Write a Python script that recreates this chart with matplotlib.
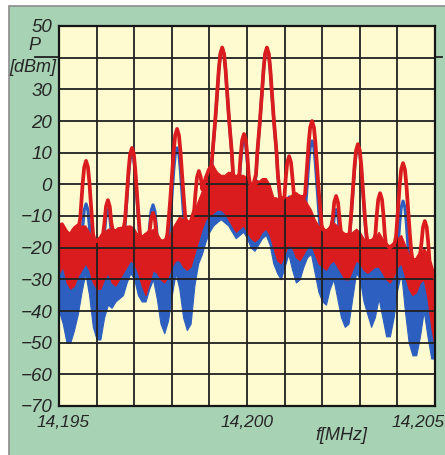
import matplotlib
matplotlib.use('Agg')
import matplotlib.pyplot as plt
import numpy as np
from matplotlib.patches import Rectangle
from matplotlib.lines import Line2D

# ---------------- data ----------------
f_start, f_stop = 14.195, 14.205
f_env = np.linspace(f_start, f_stop, 101)          # envelope sample frequencies (MHz)

# red trace: upper / lower edge of the dense noise band (dBm)
red_top = [-13, -13, -15, -16, -14, -13, -13, -13, -15, -17,
           -18, -17, -15, -14, -14, -15, -14, -14, -13, -13,
           -14, -16, -17, -16, -15, -14, -16, -18, -18, -17,
           -14, -12, -10, -11, -12, -12, -8, -5, -2, 2,
           5, 6, 4, 3, 3, 4, 3, 2, 3, 3,
           2, 0, 0, 1, 2, 2, 0, -4, -5, -5,
           -4, -4, -3, -3, -4, -4, -6, -8, -11, -13,
           -14, -15, -14, -12, -13, -15, -16, -16, -15, -14,
           -15, -17, -18, -18, -17, -15, -17, -19, -20, -19,
           -17, -16, -19, -22, -24, -24, -22, -20, -22, -26,
           -30]
red_bot = [-28, -26, -31, -33, -32, -29, -27, -25, -27, -31,
           -33, -33, -30, -28, -31, -32, -30, -28, -26, -24,
           -25, -28, -32, -35, -31, -27, -28, -30, -31, -29,
           -26, -24, -24, -26, -27, -26, -22, -18, -14, -11,
           -10, -9, -8, -8, -9, -11, -13, -15, -14, -13,
           -15, -17, -18, -17, -15, -14, -16, -20, -24, -25,
           -22, -19, -20, -23, -24, -22, -20, -19, -22, -25,
           -26, -27, -25, -24, -26, -28, -30, -30, -27, -24,
           -25, -27, -28, -27, -26, -26, -28, -30, -31, -29,
           -26, -25, -29, -33, -35, -34, -31, -30, -36, -45,
           -52]
# blue trace
blue_top = [-18, -18, -20, -21, -19, -18, -18, -18, -20, -22,
            -23, -22, -20, -19, -19, -20, -19, -19, -18, -18,
            -19, -21, -22, -21, -20, -19, -21, -23, -23, -22,
            -19, -17, -15, -16, -17, -17, -13, -10, -7, -3,
            0, 1, -1, -2, -2, -1, -2, -3, -2, -2,
            -3, -5, -5, -4, -3, -3, -5, -9, -10, -10,
            -9, -9, -8, -8, -9, -9, -11, -13, -16, -18,
            -19, -20, -19, -17, -18, -20, -21, -21, -20, -19,
            -20, -22, -23, -23, -22, -20, -22, -24, -25, -24,
            -22, -21, -24, -27, -29, -29, -27, -25, -27, -31,
            -35]
blue_bot = [-40, -44, -50, -50, -46, -41, -34, -28, -35, -45,
            -49, -49, -42, -38, -39, -37, -36, -35, -31, -28,
            -30, -35, -37, -37, -33, -30, -36, -44, -47, -43,
            -35, -28, -33, -42, -46, -44, -32, -25, -22, -18,
            -15, -13, -12, -11, -12, -13, -15, -17, -16, -15,
            -17, -20, -21, -19, -17, -16, -19, -25, -28, -30,
            -26, -22, -27, -31, -30, -26, -23, -22, -28, -34,
            -37, -38, -33, -30, -36, -42, -45, -44, -36, -28,
            -30, -37, -41, -45, -42, -36, -42, -48, -48, -42,
            -33, -28, -40, -50, -54, -54, -48, -40, -48, -55,
            -55]

# spectral lines (offset from 14.195 MHz in kHz) and their levels
peak_khz = [0.08, 0.72, 1.30, 1.94, 2.50, 3.14, 3.72, 4.34, 4.92,
            5.53, 6.12, 6.73, 7.37, 7.95, 8.54, 9.15, 9.73]
red_peak = [-12.6, 7.4, -5.0, 11.5, -9.0, 17.5, 4.2, 43.2, 15.9,
            43.2, 8.9, 20.0, -3.7, 12.7, -2.8, 6.7, -11.6]
blue_peak = [-27, -6.2, -8, 10.0, -6.5, 11.5, -8, 43.0, 14.0,
             43.0, -4.0, 13.7, -8, 12.0, -17, -5.3, -27]

# shape of one spectral line: offset (kHz) vs level below its top (dB)
profile_khz = [-0.36, -0.29, -0.255, -0.22, -0.185, -0.155, -0.125, -0.09, -0.05, 0.0,
               0.05, 0.09, 0.125, 0.155, 0.185, 0.22, 0.255, 0.29, 0.36]
profile_drop = [50, 40, 33, 28, 23, 18, 13, 7, 2, 0,
                2, 7, 13, 18, 23, 28, 33, 40, 50]

y_ticks = list(range(-70, 51, 10))
x_ticks = [14.195, 14.200, 14.205]
x_tick_labels = ['14,195', '14,200', '14,205']

# ---------------- style ----------------
RED = '#da1c1f'
BLUE = '#2c5fc0'
PLOT_BG = '#fffbd0'
PANEL = '#a8d2b4'
GRID = '#202020'
TXT = '#262626'
FONT = ['Liberation Sans', 'DejaVu Sans']

W, H = 445, 455
fig = plt.figure(figsize=(W / 100, H / 100), dpi=100)
fig.patch.set_facecolor('white')
fig.patches.append(Rectangle((9 / W, -0.01), 1.0, 1 - 6 / H + 0.01,
                             transform=fig.transFigure, facecolor=PANEL,
                             edgecolor='#8c8c8c', lw=1.2, zorder=-5))

ax = fig.add_axes([59 / W, 1 - 406 / H, 376 / W, 380 / H])
ax.set_zorder(3)
ax.set_facecolor(PLOT_BG)
ax.set_xlim(f_start, f_stop)
ax.set_ylim(-70, 50)

# blue band + lines
ax.fill_between(f_env, blue_bot, blue_top, color=BLUE, lw=0.8, zorder=1.0)
prof_f = np.array(profile_khz) / 1000.0
prof_d = np.array(profile_drop, dtype=float)
for pk, lv in zip(peak_khz, blue_peak):
    xs = f_start + pk / 1000.0 + prof_f
    ys = np.maximum(lv - prof_d, np.interp(xs, f_env, blue_top))
    ax.plot(xs, ys, color=BLUE, lw=2.3, solid_capstyle='round',
            solid_joinstyle='round', zorder=1.1)

# red band + lines
ax.fill_between(f_env, red_bot, red_top, color=RED, lw=0.8, zorder=1.2)
for pk, lv in zip(peak_khz, red_peak):
    xs = f_start + pk / 1000.0 + prof_f
    ys = np.maximum(lv - prof_d, np.interp(xs, f_env, red_top))
    ax.plot(xs, ys, color=RED, lw=2.7, solid_capstyle='round',
            solid_joinstyle='round', zorder=1.3)

# grid (between the noise bands and the red spectral lines)
ax.set_xticks(np.linspace(f_start, f_stop, 11))
ax.set_yticks(y_ticks)
ax.grid(True, color=GRID, lw=1.3)
ax.xaxis.set_zorder(1.25)
ax.yaxis.set_zorder(1.25)
ax.tick_params(length=0, labelbottom=False)
ax.set_yticklabels(['' if v == 40 else f'{v}'.replace('-', '\u2212') for v in y_ticks],
                   fontsize=13.5, style='italic', color=TXT, family=FONT)
ax.tick_params(axis='y', pad=5)
for s in ax.spines.values():
    s.set_linewidth(1.6)
    s.set_color('#151515')
    s.set_zorder(5)

# x labels
for xv, lab, dx in zip(x_ticks, x_tick_labels, [4, 0, -17]):
    ax.annotate(lab, xy=(xv, -70), xycoords='data', xytext=(dx * 0.72, -6.5),
                textcoords='offset points', ha='center', va='top',
                fontsize=12.5, style='italic', color=TXT, family=FONT,
                annotation_clip=False)

# axis titles
fig.text(34 / W, 1 - 45 / H, 'P', ha='center', va='center', fontsize=13,
         style='italic', color=TXT, family=FONT)
fig.text(33 / W, 1 - 67.5 / H, '[dBm]', ha='center', va='center', fontsize=13,
         style='italic', color=TXT, family=FONT)
fig.text(341 / W, 1 - 435 / H, 'f[MHz]', ha='center', va='center', fontsize=13,
         style='italic', color=TXT, family=FONT)

# 40 dB grid line extended beyond the frame
fig.add_artist(Line2D([35 / W, 59 / W], [1 - 56.5 / H, 1 - 56.5 / H],
                      transform=fig.transFigure, color=GRID, lw=1.3))
fig.add_artist(Line2D([435 / W, 442 / W], [1 - 56.5 / H, 1 - 56.5 / H],
                      transform=fig.transFigure, color=GRID, lw=1.3))

fig.savefig('out.png', dpi=100)
